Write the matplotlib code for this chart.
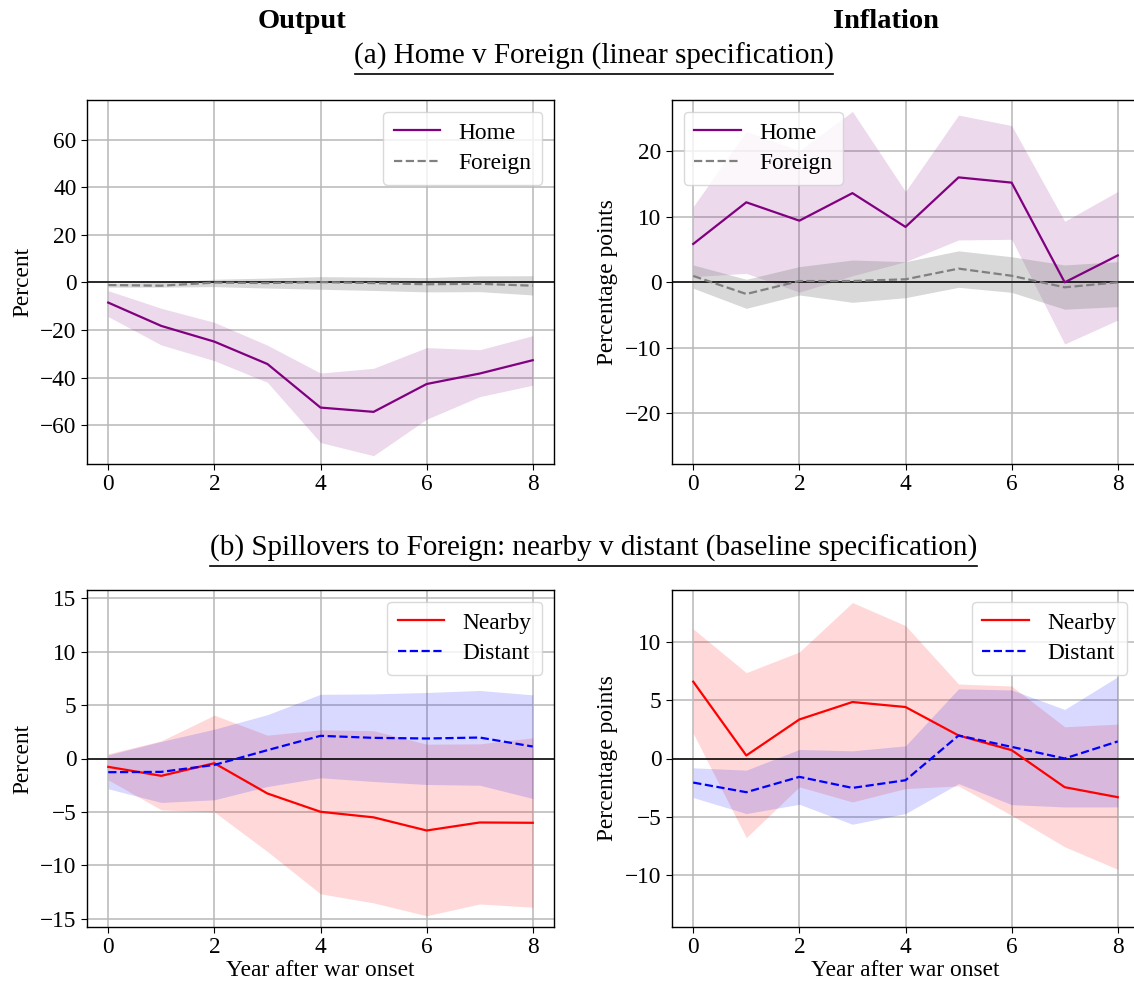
import matplotlib
matplotlib.use("Agg")
import matplotlib.pyplot as plt
import numpy as np

plt.rcParams["font.family"] = ["Liberation Serif", "DejaVu Serif"]
plt.rcParams["mathtext.fontset"] = "stix"

years = [0, 1, 2, 3, 4, 5, 6, 7, 8]

# (a) Output: Home v Foreign
out_home = [-8.5, -18.3, -24.9, -34.3, -52.6, -54.4, -42.7, -38.3, -32.7]
out_home_hi = [-3.5, -10.9, -16.8, -26.4, -38.1, -36.1, -27.4, -28.3, -22.4]
out_home_lo = [-14.4, -26.3, -32.9, -42.0, -67.3, -72.8, -57.5, -48.0, -43.2]
out_for = [-1.1, -1.4, -0.1, -0.3, 0.1, -0.3, -0.8, -0.6, -1.4]
out_for_hi = [-0.4, 0.0, 1.3, 1.8, 2.4, 2.2, 2.0, 2.7, 2.8]
out_for_lo = [-2.0, -2.0, -1.8, -2.4, -2.9, -3.4, -4.0, -3.9, -5.3]

# (a) Inflation: Home v Foreign
inf_home = [5.85, 12.2, 9.4, 13.6, 8.45, 16.0, 15.2, 0.0, 4.1]
inf_home_hi = [11.55, 23.0, 20.05, 26.05, 13.85, 25.5, 23.9, 9.3, 13.85]
inf_home_lo = [0.87, 1.37, -1.5, 1.0, 3.15, 6.46, 6.56, -9.4, -5.75]
inf_for = [0.97, -1.78, 0.2, 0.2, 0.46, 2.09, 1.0, -0.76, 0.0]
inf_for_hi = [2.65, 0.46, 2.4, 3.4, 3.15, 4.8, 3.9, 2.65, 3.15]
inf_for_lo = [-0.9, -3.97, -1.93, -3.05, -2.34, -0.76, -1.53, -4.1, -3.7]

# (b) Output: Nearby v Distant
out_near = [-0.78, -1.62, -0.44, -3.27, -4.98, -5.5, -6.73, -5.98, -6.01]
out_near_hi = [0.44, 1.65, 4.05, 2.18, 2.68, 2.6, 1.34, 1.37, 1.93]
out_near_lo = [-2.0, -4.8, -5.0, -8.7, -12.65, -13.5, -14.7, -13.6, -13.9]
out_dist = [-1.28, -1.25, -0.6, 0.78, 2.12, 1.93, 1.87, 1.96, 1.12]
out_dist_hi = [0.34, 1.6, 2.74, 4.1, 6.0, 6.04, 6.17, 6.36, 5.95]
out_dist_lo = [-2.83, -4.11, -3.86, -2.62, -1.8, -2.15, -2.43, -2.5, -3.74]

# (b) Inflation: Nearby v Distant
inf_near = [6.61, 0.26, 3.36, 4.86, 4.43, 1.98, 0.72, -2.47, -3.33]
inf_near_hi = [11.15, 7.39, 9.17, 13.42, 11.44, 6.41, 6.24, 2.73, 2.96]
inf_near_lo = [2.16, -6.81, -2.44, -3.74, -2.59, -2.36, -4.89, -7.6, -9.54]
inf_dist = [-2.07, -2.9, -1.58, -2.53, -1.87, 1.98, 1.0, 0.0, 1.47]
inf_dist_hi = [-0.8, -1.0, 0.78, 0.66, 1.09, 6.0, 5.9, 4.22, 7.04]
inf_dist_lo = [-3.36, -4.74, -3.94, -5.66, -4.74, -2.16, -3.97, -4.17, -4.17]

W, H = 1134, 985
fig = plt.figure(figsize=(W / 100, H / 100), dpi=100)


def px_axes(x0, y0, x1, y1):
    return fig.add_axes([x0 / W, 1 - y1 / H, (x1 - x0) / W, (y1 - y0) / H])


TICK = 16.8


def panel(ax, series, ylim, yticks, ylabel, legend_loc, xlabel=None):
    ax.axhline(0, color="black", lw=1.1, zorder=3)
    for mid, lo, hi, color, fill, alpha, ls, label in series:
        ax.fill_between(years, lo, hi, color=fill, alpha=alpha, lw=0, zorder=1)
        ax.plot(years, mid, color=color, ls=ls, lw=1.6, label=label, zorder=4)
    ax.set_xlim(-0.4, 8.4)
    ax.set_ylim(*ylim)
    ax.set_xticks([0, 2, 4, 6, 8])
    ax.set_yticks(yticks)
    ax.grid(True, color="#b8b8b8", lw=1.1)
    ax.set_axisbelow(True)
    ax.tick_params(labelsize=TICK, length=4)
    ax.set_ylabel(ylabel, fontsize=TICK, labelpad=5)
    if xlabel:
        ax.set_xlabel(xlabel, fontsize=TICK, labelpad=1)
    leg = ax.legend(loc=legend_loc, fontsize=TICK, handlelength=2.0,
                    borderpad=0.45, labelspacing=0.4, framealpha=0.8)
    leg.get_frame().set_edgecolor("#d0d0d0")
    for s in ax.spines.values():
        s.set_color("black")
        s.set_linewidth(1.0)


ax1 = px_axes(87, 100, 554, 464)
panel(ax1, [
    (out_home, out_home_lo, out_home_hi, "purple", "purple", 0.15, "-", "Home"),
    (out_for, out_for_lo, out_for_hi, "gray", "gray", 0.3, "--", "Foreign"),
], (-76.3, 76.6), np.arange(-60, 61, 20), "Percent", "upper right")

ax2 = px_axes(672, 100, 1139, 464)
panel(ax2, [
    (inf_home, inf_home_lo, inf_home_hi, "purple", "purple", 0.15, "-", "Home"),
    (inf_for, inf_for_lo, inf_for_hi, "gray", "gray", 0.3, "--", "Foreign"),
], (-27.7, 27.8), np.arange(-20, 21, 10), "Percentage points", "upper left")

ax3 = px_axes(87, 590, 554, 927)
panel(ax3, [
    (out_near, out_near_lo, out_near_hi, "red", "red", 0.15, "-", "Nearby"),
    (out_dist, out_dist_lo, out_dist_hi, "blue", "blue", 0.15, "--", "Distant"),
], (-15.75, 15.75), np.arange(-15, 16, 5), "Percent", "upper right",
    "Year after war onset")

ax4 = px_axes(672, 590, 1139, 927)
panel(ax4, [
    (inf_near, inf_near_lo, inf_near_hi, "red", "red", 0.15, "-", "Nearby"),
    (inf_dist, inf_dist_lo, inf_dist_hi, "blue", "blue", 0.15, "--", "Distant"),
], (-14.5, 14.5), np.arange(-10, 11, 5), "Percentage points", "upper right",
    "Year after war onset")

# column headings and section headings
fig.text(302 / W, 1 - 22 / H, "Output", ha="center", va="center",
         fontsize=20.5, fontweight="bold")
fig.text(886 / W, 1 - 22 / H, "Inflation", ha="center", va="center",
         fontsize=20.5, fontweight="bold")


def section(text, y, x0, x1, yline):
    fig.text(594 / W, 1 - y / H, text, ha="center", va="center", fontsize=21)
    fig.add_artist(plt.Line2D([x0 / W, x1 / W], [1 - yline / H, 1 - yline / H],
                              color="black", lw=1.2, transform=fig.transFigure))


section("(a) Home v Foreign (linear specification)", 56, 355, 833, 74)
section("(b) Spillovers to Foreign: nearby v distant (baseline specification)",
        548, 210, 977, 566)

fig.savefig("out.png", dpi=100)
